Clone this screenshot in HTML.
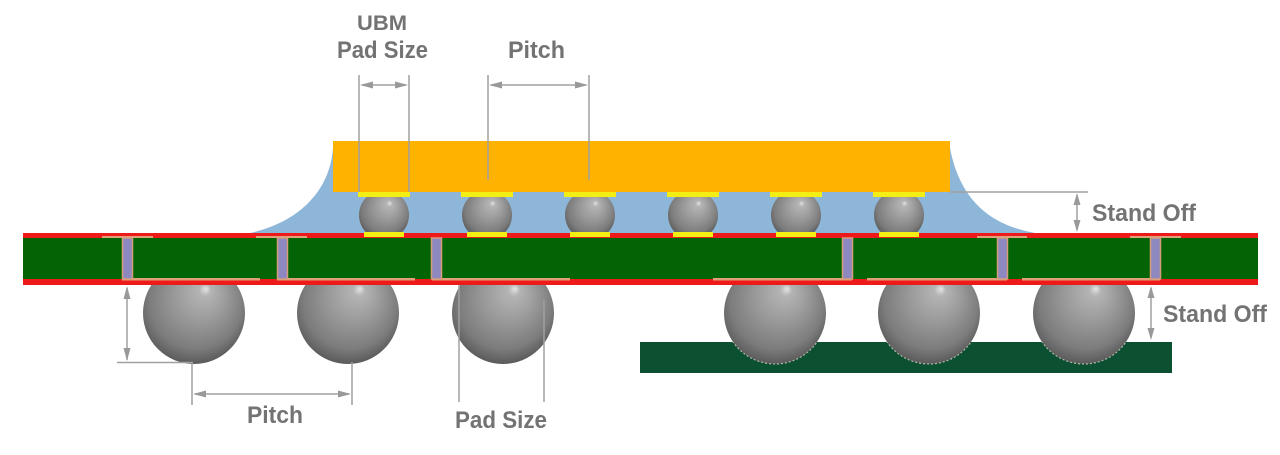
<!DOCTYPE html>
<html><head><meta charset="utf-8"><style>
html,body{margin:0;padding:0;background:#fff;}
svg{display:block;}
text{font-family:"Liberation Sans",sans-serif;font-weight:bold;fill:#737373;}
</style></head><body>
<svg width="1280" height="455" viewBox="0 0 1280 455" xmlns="http://www.w3.org/2000/svg">
<defs>
<radialGradient id="ball" cx="0.5" cy="0.42" r="0.58" fx="0.62" fy="0.26">
<stop offset="0" stop-color="#e4e4e4"/>
<stop offset="0.1" stop-color="#b4b4b4"/>
<stop offset="0.45" stop-color="#999999"/>
<stop offset="0.8" stop-color="#7c7c7c"/>
<stop offset="1" stop-color="#5a5a5a"/>
</radialGradient>
<clipPath id="pcbclip"><rect x="640" y="342" width="532" height="31"/></clipPath>
</defs>

<!-- underfill -->
<path d="M250,233 C300,222 330,190 333,148 L950,148 C960,200 990,225 1035,233 Z" fill="#8db6d9"/>

<!-- small bumps -->
<g fill="url(#ball)">
<circle cx="384" cy="215" r="25"/>
<circle cx="487" cy="215" r="25"/>
<circle cx="590" cy="215" r="25"/>
<circle cx="693" cy="215" r="25"/>
<circle cx="796" cy="215" r="25"/>
<circle cx="899" cy="215" r="25"/>
</g>

<!-- die -->
<rect x="333" y="141" width="617" height="51" fill="#ffb200"/>
<!-- top UBM pads -->
<g fill="#f3ef14">
<rect x="358" y="192" width="52" height="5"/>
<rect x="461" y="192" width="52" height="5"/>
<rect x="564" y="192" width="52" height="5"/>
<rect x="667" y="192" width="52" height="5"/>
<rect x="770" y="192" width="52" height="5"/>
<rect x="873" y="192" width="52" height="5"/>
</g>

<!-- bottom PCB -->
<rect x="640" y="342" width="532" height="31" fill="#0b5030"/>

<!-- big balls -->
<g fill="url(#ball)">
<circle cx="194" cy="313" r="51"/>
<circle cx="348" cy="313" r="51"/>
<circle cx="503" cy="313" r="51"/>
<circle cx="775" cy="313" r="51"/>
<circle cx="929" cy="313" r="51"/>
<circle cx="1084" cy="313" r="51"/>
</g>
<g clip-path="url(#pcbclip)" fill="none" stroke="#b5b5a8" stroke-width="1.2" stroke-dasharray="2 2">
<circle cx="775" cy="313" r="51"/>
<circle cx="929" cy="313" r="51"/>
<circle cx="1084" cy="313" r="51"/>
</g>

<!-- substrate board -->
<rect x="23" y="233" width="1235" height="52" fill="#ee1a1a"/>
<rect x="23" y="238" width="1235" height="41" fill="#036405"/>
<!-- copper pads (top) -->
<g fill="#e0a07a">
<rect x="102" y="236" width="51" height="2"/>
<rect x="256" y="236" width="51" height="2"/>
<rect x="977" y="236" width="50" height="2"/>
<rect x="1130" y="236" width="51" height="2"/>
</g>
<!-- copper pads (bottom) -->
<g fill="#e0a07a">
<rect x="122" y="278" width="138" height="2.5"/>
<rect x="277" y="278" width="138" height="2.5"/>
<rect x="432" y="278" width="138" height="2.5"/>
<rect x="713" y="278" width="139" height="2.5"/>
<rect x="867" y="278" width="140" height="2.5"/>
<rect x="1022" y="278" width="138" height="2.5"/>
</g>
<!-- vias -->
<g fill="#8d88c0" stroke="#d79d7a" stroke-width="1.5">
<rect x="122.5" y="238" width="10" height="41"/>
<rect x="277.5" y="238" width="10" height="41"/>
<rect x="431.5" y="238" width="10" height="41"/>
<rect x="842.5" y="238" width="10" height="41"/>
<rect x="997.5" y="238" width="10" height="41"/>
<rect x="1150.5" y="238" width="10" height="41"/>
</g>
<!-- bottom bump pads on board -->
<g fill="#f3ef14">
<rect x="364" y="232" width="40" height="5"/>
<rect x="467" y="232" width="40" height="5"/>
<rect x="570" y="232" width="40" height="5"/>
<rect x="673" y="232" width="40" height="5"/>
<rect x="776" y="232" width="40" height="5"/>
<rect x="879" y="232" width="40" height="5"/>
</g>

<!-- dimension lines -->
<g stroke="#a0a0a0" stroke-width="1.5" fill="none">
<line x1="359" y1="75" x2="359" y2="192"/>
<line x1="409" y1="75" x2="409" y2="192"/>
<line x1="488" y1="75" x2="488" y2="180"/>
<line x1="589" y1="75" x2="589" y2="180"/>
<line x1="362" y1="85" x2="406" y2="85"/>
<line x1="491" y1="85" x2="586" y2="85"/>
<line x1="950" y1="192" x2="1088" y2="192"/>
<line x1="1077" y1="195" x2="1077" y2="230"/>
<line x1="1151" y1="288" x2="1151" y2="338"/>
<line x1="127" y1="288" x2="127" y2="360"/>
<line x1="117" y1="362.5" x2="193" y2="362.5"/>
<line x1="192" y1="362" x2="192" y2="405"/>
<line x1="352" y1="362" x2="352" y2="405"/>
<line x1="195" y1="394" x2="349" y2="394"/>
<line x1="459" y1="285" x2="459" y2="402"/>
<line x1="544" y1="300" x2="544" y2="402"/>
</g>
<!-- arrowheads -->
<g fill="#999">
<polygon points="360,85 373,81.5 373,88.5"/>
<polygon points="408,85 395,81.5 395,88.5"/>
<polygon points="489,85 502,81.5 502,88.5"/>
<polygon points="588,85 575,81.5 575,88.5"/>
<polygon points="1077,193 1073.5,205 1080.5,205"/>
<polygon points="1077,232 1073.5,220 1080.5,220"/>
<polygon points="1151,286 1147.5,298 1154.5,298"/>
<polygon points="1151,340 1147.5,328 1154.5,328"/>
<polygon points="127,286 123.5,299 130.5,299"/>
<polygon points="127,361 123.5,348 130.5,348"/>
<polygon points="193,394 206,390.5 206,397.5"/>
<polygon points="351,394 338,390.5 338,397.5"/>
</g>

<!-- labels -->
<text x="357" y="30" font-size="21" textLength="50" lengthAdjust="spacingAndGlyphs">UBM</text>
<text x="337" y="58" font-size="24" textLength="91" lengthAdjust="spacingAndGlyphs">Pad Size</text>
<text x="508" y="58" font-size="24" textLength="57" lengthAdjust="spacingAndGlyphs">Pitch</text>
<text x="1092" y="221" font-size="24" textLength="104" lengthAdjust="spacingAndGlyphs">Stand Off</text>
<text x="1163" y="322" font-size="24" textLength="104" lengthAdjust="spacingAndGlyphs">Stand Off</text>
<text x="247" y="423" font-size="24" textLength="56" lengthAdjust="spacingAndGlyphs">Pitch</text>
<text x="455" y="428" font-size="24" textLength="92" lengthAdjust="spacingAndGlyphs">Pad Size</text>
</svg>
</body></html>
